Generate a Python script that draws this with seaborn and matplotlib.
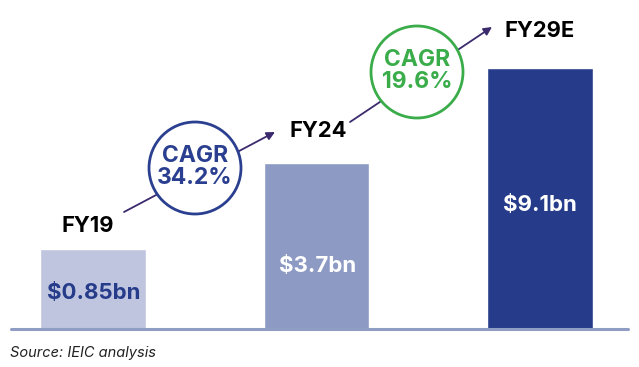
import numpy as np
import matplotlib.pyplot as plt
import seaborn as sns
from matplotlib.patches import Ellipse

# data
years = ['FY19', 'FY24', 'FY29E']
values = [0.85, 3.7, 9.1]
value_labels = ['$0.85bn', '$3.7bn', '$9.1bn']
cagr_labels = ['CAGR\n34.2%', 'CAGR\n19.6%']

bar_colors = ['#bfc5df', '#8d9ac3', '#263c8a']
label_colors = ['#263c8a', 'white', 'white']
cagr_colors = ['#2a3f8f', '#3aac4a']

sns.set_style('white')
plt.rcParams['font.family'] = ['Inter', 'DejaVu Sans']

W, H = 639, 367
fig = plt.figure(figsize=(W / 100, H / 100), dpi=100)
ax = fig.add_axes([0, 38 / H, 1, 329 / H])

def fx(px):
    return px / W

def fy(py):
    return 1 - py / H

# bars on a square-root scale (the picture is not linear)
sns.barplot(x=years, y=values, hue=years, palette=bar_colors, width=0.474,
            legend=False, ax=ax, saturation=1)
ax.set_yscale('function', functions=(np.sqrt, np.square))
ax.set_xlim(-0.416, 2.443)
ax.set_ylim(0, 14.46)
ax.axis('off')

# baseline
ax.axhline(0, xmin=11 / W, xmax=628 / W, color='#8f9cc4', lw=2.2,
           clip_on=False, zorder=5)

# year labels
year_pos = [(88, 226), (318, 131), (540, 31)]
for yr, (px, py) in zip(years, year_pos):
    fig.text(fx(px), fy(py), yr, ha='center', va='center', fontsize=15.8,
             fontweight='bold', color='black')

# value labels inside bars
val_pos = [(94, 293), (318, 266), (540, 205)]
for lab, c, (px, py) in zip(value_labels, label_colors, val_pos):
    fig.text(fx(px), fy(py), lab, ha='center', va='center', fontsize=16,
             fontweight='bold', color=c)

# growth arrows
arrows = [((124, 212), (275, 132)), ((350, 122), (492, 27))]
for (x0, y0), (x1, y1) in arrows:
    ax.annotate('', xy=(fx(x1), fy(y1)), xytext=(fx(x0), fy(y0)),
                xycoords='figure fraction', textcoords='figure fraction',
                arrowprops=dict(arrowstyle='-|>', color='#3b2a6e', lw=1.3,
                                mutation_scale=12, shrinkA=0, shrinkB=0))

# CAGR bubbles
circ_pos = [(195, 168), (417, 72)]
for lab, c, (px, py) in zip(cagr_labels, cagr_colors, circ_pos):
    e = Ellipse((fx(px), fy(py)), 92 / W, 92 / H, transform=fig.transFigure,
                facecolor='white', edgecolor=c, lw=2, zorder=10)
    fig.add_artist(e)
    fig.text(fx(px), fy(py - 1), lab, ha='center', va='center', fontsize=16.5,
             fontweight='bold', color=c, linespacing=1.05, zorder=11)

fig.text(fx(10), fy(353), 'Source: IEIC analysis', ha='left', va='center',
         fontsize=10.5, style='italic', color='#222222')

fig.savefig('out.png', dpi=100)
